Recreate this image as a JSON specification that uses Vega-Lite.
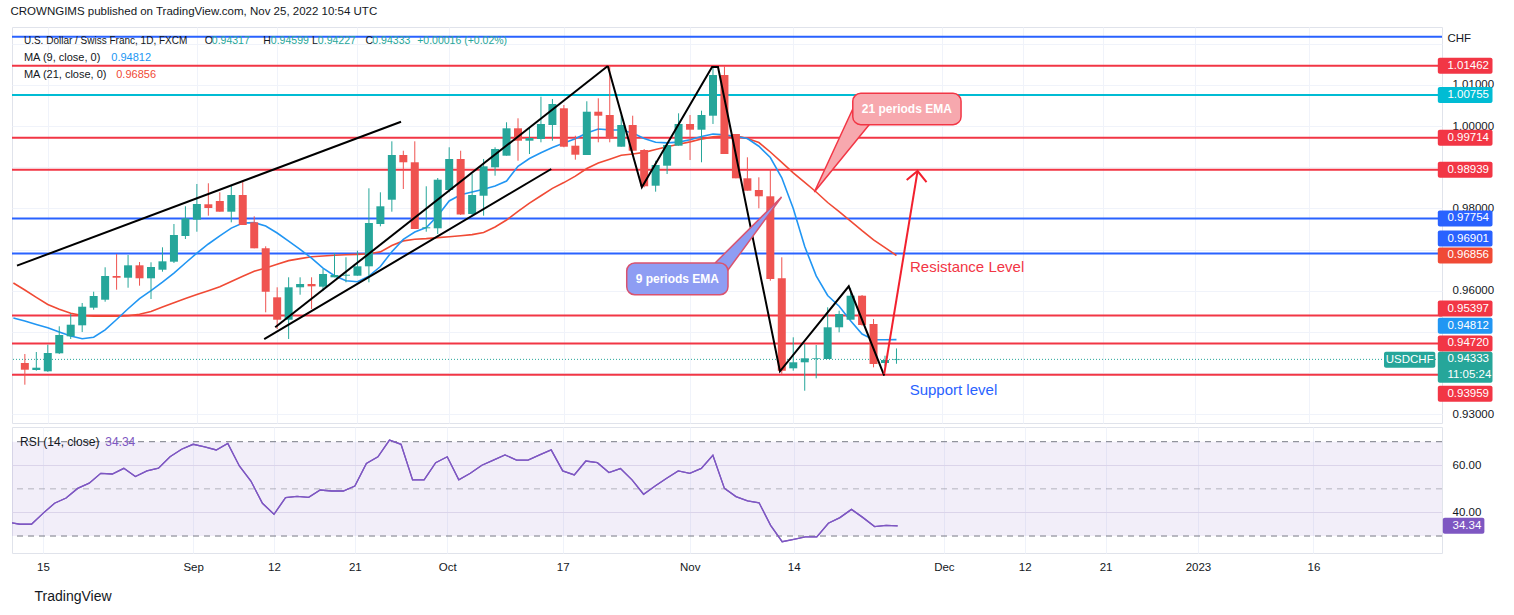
{
  "$schema": "https://vega.github.io/schema/vega-lite/v6.json",
  "background": "#ffffff",
  "padding": {"left": 10, "top": 6, "right": 4, "bottom": 4},
  "spacing": 2,
  "title": {"text": "CROWNGIMS published on TradingView.com, Nov 25, 2022 10:54 UTC", "anchor": "start", "font": "Liberation Sans", "fontSize": 11.5, "fontWeight": "normal", "color": "#131722", "offset": 9},
  "config": {
    "view": {"stroke": "#e0e3eb"},
    "font": "Liberation Sans",
    "axis": {"labelFont": "Liberation Sans", "labelFontSize": 11.5, "labelColor": "#131722"}
  },
  "datasets": {
    "bars": [
      {"i": -3, "m9": 0.95338, "m21": 0.96187, "r": 35.8},
      {"i": -2, "o": 0.94245, "h": 0.94463, "l": 0.93718, "c": 0.94082, "m9": 0.95265, "m21": 0.96018, "r": 35.0},
      {"i": -1, "o": 0.94075, "h": 0.94512, "l": 0.94058, "c": 0.94131, "m9": 0.95182, "m21": 0.95840, "r": 35.0},
      {"i": 0, "o": 0.94043, "h": 0.94689, "l": 0.94030, "c": 0.94488, "m9": 0.95102, "m21": 0.95665, "r": 39.6},
      {"i": 1, "o": 0.94480, "h": 0.95136, "l": 0.94463, "c": 0.94925, "m9": 0.95000, "m21": 0.95551, "r": 43.9},
      {"i": 2, "o": 0.94893, "h": 0.95435, "l": 0.94828, "c": 0.95175, "m9": 0.94900, "m21": 0.95454, "r": 46.1},
      {"i": 3, "o": 0.95160, "h": 0.95702, "l": 0.94997, "c": 0.95612, "m9": 0.94835, "m21": 0.95398, "r": 50.2},
      {"i": 4, "o": 0.95588, "h": 0.95976, "l": 0.95539, "c": 0.95872, "m9": 0.94871, "m21": 0.95379, "r": 52.4},
      {"i": 5, "o": 0.95782, "h": 0.96569, "l": 0.95733, "c": 0.96357, "m9": 0.95051, "m21": 0.95379, "r": 56.6},
      {"i": 6, "o": 0.96357, "h": 0.96892, "l": 0.96025, "c": 0.96316, "m9": 0.95301, "m21": 0.95384, "r": 56.3},
      {"i": 7, "o": 0.96316, "h": 0.96867, "l": 0.96073, "c": 0.96617, "m9": 0.95563, "m21": 0.95391, "r": 58.7},
      {"i": 8, "o": 0.96617, "h": 0.96697, "l": 0.96122, "c": 0.96302, "m9": 0.95806, "m21": 0.95427, "r": 55.2},
      {"i": 9, "o": 0.96302, "h": 0.96690, "l": 0.95799, "c": 0.96576, "m9": 0.96000, "m21": 0.95495, "r": 57.6},
      {"i": 10, "o": 0.96510, "h": 0.97054, "l": 0.96462, "c": 0.96714, "m9": 0.96207, "m21": 0.95602, "r": 58.8},
      {"i": 11, "o": 0.96705, "h": 0.97620, "l": 0.96673, "c": 0.97353, "m9": 0.96428, "m21": 0.95709, "r": 63.6},
      {"i": 12, "o": 0.97329, "h": 0.98050, "l": 0.97256, "c": 0.97759, "m9": 0.96673, "m21": 0.95809, "r": 66.8},
      {"i": 13, "o": 0.97725, "h": 0.98592, "l": 0.97433, "c": 0.98106, "m9": 0.96914, "m21": 0.95906, "r": 68.9},
      {"i": 14, "o": 0.98099, "h": 0.98609, "l": 0.97822, "c": 0.98009, "m9": 0.97135, "m21": 0.96000, "r": 67.8},
      {"i": 15, "o": 0.98179, "h": 0.98390, "l": 0.97919, "c": 0.97919, "m9": 0.97334, "m21": 0.96098, "r": 66.5},
      {"i": 16, "o": 0.97919, "h": 0.98567, "l": 0.97661, "c": 0.98324, "m9": 0.97521, "m21": 0.96224, "r": 69.3},
      {"i": 17, "o": 0.98324, "h": 0.98672, "l": 0.97596, "c": 0.97596, "m9": 0.97644, "m21": 0.96350, "r": 59.7},
      {"i": 18, "o": 0.97661, "h": 0.97807, "l": 0.97030, "c": 0.97030, "m9": 0.97654, "m21": 0.96474, "r": 53.3},
      {"i": 19, "o": 0.97030, "h": 0.97079, "l": 0.95476, "c": 0.95976, "m9": 0.97572, "m21": 0.96554, "r": 43.9},
      {"i": 20, "o": 0.95840, "h": 0.96083, "l": 0.95070, "c": 0.95296, "m9": 0.97402, "m21": 0.96644, "r": 39.2},
      {"i": 21, "o": 0.95296, "h": 0.96326, "l": 0.94828, "c": 0.96083, "m9": 0.97205, "m21": 0.96731, "r": 46.3},
      {"i": 22, "o": 0.96083, "h": 0.96326, "l": 0.95903, "c": 0.96163, "m9": 0.97006, "m21": 0.96780, "r": 46.8},
      {"i": 23, "o": 0.96163, "h": 0.96326, "l": 0.95556, "c": 0.96107, "m9": 0.96790, "m21": 0.96824, "r": 46.4},
      {"i": 24, "o": 0.96098, "h": 0.96527, "l": 0.96000, "c": 0.96406, "m9": 0.96549, "m21": 0.96843, "r": 49.5},
      {"i": 25, "o": 0.96326, "h": 0.96916, "l": 0.96326, "c": 0.96382, "m9": 0.96365, "m21": 0.96860, "r": 49.1},
      {"i": 26, "o": 0.96365, "h": 0.96812, "l": 0.96204, "c": 0.96389, "m9": 0.96241, "m21": 0.96872, "r": 49.1},
      {"i": 27, "o": 0.96365, "h": 0.96972, "l": 0.96365, "c": 0.96593, "m9": 0.96219, "m21": 0.96882, "r": 51.2},
      {"i": 28, "o": 0.96593, "h": 0.98487, "l": 0.96204, "c": 0.97644, "m9": 0.96355, "m21": 0.96897, "r": 60.8},
      {"i": 29, "o": 0.97620, "h": 0.98390, "l": 0.97564, "c": 0.98050, "m9": 0.96588, "m21": 0.96943, "r": 63.6},
      {"i": 30, "o": 0.98210, "h": 0.99628, "l": 0.97919, "c": 0.99296, "m9": 0.96948, "m21": 0.97098, "r": 70.7},
      {"i": 31, "o": 0.99296, "h": 0.99400, "l": 0.98470, "c": 0.99119, "m9": 0.97246, "m21": 0.97210, "r": 68.9},
      {"i": 32, "o": 0.99119, "h": 0.99628, "l": 0.97499, "c": 0.97499, "m9": 0.97424, "m21": 0.97249, "r": 53.8},
      {"i": 33, "o": 0.97516, "h": 0.98536, "l": 0.97433, "c": 0.97540, "m9": 0.97533, "m21": 0.97266, "r": 53.8},
      {"i": 34, "o": 0.97516, "h": 0.98737, "l": 0.97377, "c": 0.98696, "m9": 0.97819, "m21": 0.97290, "r": 61.1},
      {"i": 35, "o": 0.98446, "h": 0.99483, "l": 0.98390, "c": 0.99199, "m9": 0.98179, "m21": 0.97312, "r": 63.6},
      {"i": 36, "o": 0.99199, "h": 0.99400, "l": 0.97839, "c": 0.97851, "m9": 0.98329, "m21": 0.97336, "r": 53.8},
      {"i": 37, "o": 0.97863, "h": 0.98834, "l": 0.97822, "c": 0.98324, "m9": 0.98397, "m21": 0.97363, "r": 56.6},
      {"i": 38, "o": 0.98307, "h": 0.99199, "l": 0.97822, "c": 0.99021, "m9": 0.98465, "m21": 0.97414, "r": 60.0},
      {"i": 39, "o": 0.98997, "h": 0.99483, "l": 0.98793, "c": 0.99441, "m9": 0.98541, "m21": 0.97547, "r": 62.2},
      {"i": 40, "o": 0.99279, "h": 1.00090, "l": 0.99279, "c": 0.99944, "m9": 0.98664, "m21": 0.97717, "r": 64.4},
      {"i": 41, "o": 0.99944, "h": 1.00187, "l": 0.99157, "c": 0.99643, "m9": 0.99021, "m21": 0.97929, "r": 62.2},
      {"i": 42, "o": 0.99643, "h": 0.99968, "l": 0.99320, "c": 0.99709, "m9": 0.99211, "m21": 0.98128, "r": 62.2},
      {"i": 43, "o": 0.99684, "h": 1.00712, "l": 0.99604, "c": 1.00049, "m9": 0.99349, "m21": 0.98307, "r": 64.4},
      {"i": 44, "o": 1.00024, "h": 1.00656, "l": 0.99643, "c": 1.00534, "m9": 0.99478, "m21": 0.98485, "r": 66.5},
      {"i": 45, "o": 1.00430, "h": 1.00510, "l": 0.99483, "c": 0.99497, "m9": 0.99587, "m21": 0.98626, "r": 57.6},
      {"i": 46, "o": 0.99522, "h": 0.99764, "l": 0.99182, "c": 0.99303, "m9": 0.99689, "m21": 0.98783, "r": 55.9},
      {"i": 47, "o": 0.99296, "h": 1.00600, "l": 0.99296, "c": 1.00347, "m9": 0.99830, "m21": 0.98968, "r": 61.8},
      {"i": 48, "o": 1.00347, "h": 1.00673, "l": 0.99604, "c": 1.00250, "m9": 0.99927, "m21": 0.99099, "r": 61.1},
      {"i": 49, "o": 1.00267, "h": 1.01462, "l": 0.99604, "c": 0.99701, "m9": 0.99905, "m21": 0.99194, "r": 56.9},
      {"i": 50, "o": 0.99497, "h": 1.00267, "l": 0.99497, "c": 1.00024, "m9": 0.99903, "m21": 0.99288, "r": 58.6},
      {"i": 51, "o": 1.00024, "h": 1.00250, "l": 0.99400, "c": 0.99400, "m9": 0.99828, "m21": 0.99320, "r": 53.8},
      {"i": 52, "o": 0.99417, "h": 0.99441, "l": 0.98511, "c": 0.98536, "m9": 0.99696, "m21": 0.99359, "r": 47.7},
      {"i": 53, "o": 0.98550, "h": 0.99157, "l": 0.98405, "c": 0.99053, "m9": 0.99607, "m21": 0.99429, "r": 51.2},
      {"i": 54, "o": 0.99036, "h": 0.99604, "l": 0.98834, "c": 0.99539, "m9": 0.99590, "m21": 0.99495, "r": 54.5},
      {"i": 55, "o": 0.99522, "h": 1.00308, "l": 0.99522, "c": 1.00049, "m9": 0.99609, "m21": 0.99556, "r": 57.6},
      {"i": 56, "o": 1.00049, "h": 1.00267, "l": 0.99174, "c": 0.99910, "m9": 0.99665, "m21": 0.99614, "r": 56.6},
      {"i": 57, "o": 0.99910, "h": 1.00372, "l": 0.99119, "c": 1.00267, "m9": 0.99745, "m21": 0.99682, "r": 58.7},
      {"i": 58, "o": 1.00250, "h": 1.01425, "l": 1.00049, "c": 1.01238, "m9": 0.99806, "m21": 0.99735, "r": 64.2},
      {"i": 59, "o": 1.01238, "h": 1.01450, "l": 0.99320, "c": 0.99320, "m9": 0.99789, "m21": 0.99762, "r": 50.2},
      {"i": 60, "o": 0.99806, "h": 0.99806, "l": 0.98730, "c": 0.98730, "m9": 0.99747, "m21": 0.99760, "r": 46.7},
      {"i": 61, "o": 0.98730, "h": 0.99240, "l": 0.98429, "c": 0.98429, "m9": 0.99696, "m21": 0.99696, "r": 44.9},
      {"i": 62, "o": 0.98446, "h": 0.98754, "l": 0.98001, "c": 0.98293, "m9": 0.99509, "m21": 0.99599, "r": 44.1},
      {"i": 63, "o": 0.98293, "h": 0.98956, "l": 0.96243, "c": 0.96285, "m9": 0.99235, "m21": 0.99369, "r": 34.5},
      {"i": 64, "o": 0.96302, "h": 0.96812, "l": 0.93980, "c": 0.94058, "m9": 0.98742, "m21": 0.99119, "r": 27.6},
      {"i": 65, "o": 0.94116, "h": 0.94869, "l": 0.94058, "c": 0.94262, "m9": 0.97997, "m21": 0.98864, "r": 28.6},
      {"i": 66, "o": 0.94262, "h": 0.94706, "l": 0.93572, "c": 0.94359, "m9": 0.97074, "m21": 0.98633, "r": 29.6},
      {"i": 67, "o": 0.94342, "h": 0.94682, "l": 0.93873, "c": 0.94359, "m9": 0.96360, "m21": 0.98397, "r": 29.6},
      {"i": 68, "o": 0.94342, "h": 0.95597, "l": 0.94342, "c": 0.95112, "m9": 0.95884, "m21": 0.98142, "r": 35.4},
      {"i": 69, "o": 0.95112, "h": 0.95515, "l": 0.94990, "c": 0.95435, "m9": 0.95622, "m21": 0.97919, "r": 37.8},
      {"i": 70, "o": 0.95296, "h": 0.96059, "l": 0.95296, "c": 0.95879, "m9": 0.95271, "m21": 0.97691, "r": 41.3},
      {"i": 71, "o": 0.95879, "h": 0.95896, "l": 0.95150, "c": 0.95167, "m9": 0.94949, "m21": 0.97458, "r": 37.8},
      {"i": 72, "o": 0.95192, "h": 0.95313, "l": 0.94140, "c": 0.94220, "m9": 0.94811, "m21": 0.97237, "r": 34.0},
      {"i": 73, "o": 0.94245, "h": 0.94422, "l": 0.94165, "c": 0.94318, "m9": 0.94808, "m21": 0.97045, "r": 34.5},
      {"i": 74, "o": 0.94317, "h": 0.94599, "l": 0.94227, "c": 0.94333, "m9": 0.94812, "m21": 0.96856, "r": 34.34}
    ],
    "levels": [
      {"p": 1.0217, "kind": "blue"},
      {"p": 1.01462, "kind": "res"},
      {"p": 1.00755, "kind": "cyan"},
      {"p": 0.99714, "kind": "res"},
      {"p": 0.98939, "kind": "res"},
      {"p": 0.97754, "kind": "blue"},
      {"p": 0.96901, "kind": "blue"},
      {"p": 0.95397, "kind": "res"},
      {"p": 0.94720, "kind": "res"},
      {"p": 0.93959, "kind": "res"}
    ],
    "tags": [
      {"v": 1.01462, "kind": "res"},
      {"v": 1.00755, "kind": "cyan"},
      {"v": 0.99714, "kind": "res"},
      {"v": 0.98939, "kind": "res"},
      {"v": 0.97754, "kind": "blue"},
      {"v": 0.96901, "kind": "blue"},
      {"v": 0.96856, "kind": "ma21"},
      {"v": 0.95397, "kind": "res"},
      {"v": 0.94812, "kind": "ma9"},
      {"v": 0.94720, "kind": "res"},
      {"v": 0.93959, "kind": "res"}
    ],
    "trend": [
      {"g": "a", "k": 0, "i": -2.684, "p": 0.96608},
      {"g": "a", "k": 1, "i": 30.8, "p": 1.00104},
      {"g": "b", "k": 0, "i": 18.87, "p": 0.94827},
      {"g": "b", "k": 1, "i": 43.9, "p": 0.98956},
      {"g": "c", "k": 0, "i": 19.83, "p": 0.95112},
      {"g": "c", "k": 1, "i": 48.83, "p": 1.01457},
      {"g": "z", "k": 0, "i": 48.83, "p": 1.01457},
      {"g": "z", "k": 1, "i": 51.8, "p": 0.98511},
      {"g": "z", "k": 2, "i": 57.92, "p": 1.01433},
      {"g": "z", "k": 3, "i": 58.44, "p": 1.01433},
      {"g": "z", "k": 4, "i": 63.84, "p": 0.94043},
      {"g": "z", "k": 5, "i": 69.84, "p": 0.96107},
      {"g": "z", "k": 6, "i": 72.93, "p": 0.93936}
    ],
    "arrow": [
      {"g": "s", "k": 0, "i": 72.93, "p": 0.93978},
      {"g": "s", "k": 1, "i": 75.84, "p": 0.98907},
      {"g": "h", "k": 0, "i": 74.89, "p": 0.98689},
      {"g": "h", "k": 1, "i": 75.84, "p": 0.98907},
      {"g": "h", "k": 2, "i": 76.62, "p": 0.98640}
    ],
    "tail21": [
      {"k": 0, "i": 70.27, "p": 1.00461},
      {"k": 1, "i": 71.6, "p": 1.00024},
      {"k": 2, "i": 66.84, "p": 0.98397},
      {"k": 3, "i": 70.27, "p": 1.00461}
    ],
    "tail9": [
      {"k": 0, "i": 58.18, "p": 0.96673},
      {"k": 1, "i": 59.31, "p": 0.96503},
      {"k": 2, "i": 63.98, "p": 0.98276},
      {"k": 3, "i": 58.18, "p": 0.96673}
    ]
  },
  "vconcat": [
    {
      "width": 1430,
      "height": 396,
      "layer": [
        {
          "data": {"name": "levels"},
          "mark": {"type": "rule", "strokeWidth": 2},
          "encoding": {
            "y": {"field": "p", "type": "quantitative"},
            "color": {"field": "kind", "type": "nominal", "legend": null, "scale": {"domain": ["res", "blue", "cyan", "ma21", "ma9", "price"], "range": ["#f23645", "#2962ff", "#00bcd4", "#f04a35", "#2196f3", "#26a69a"]}}
          }
        },
        {
          "data": {"name": "bars"},
          "transform": [{"filter": "datum.i == 74"}],
          "mark": {"type": "rule", "strokeWidth": 1, "strokeDash": [1, 2], "color": "#26a69a"},
          "encoding": {"y": {"field": "c", "type": "quantitative"}}
        },
        {
          "data": {"name": "bars"},
          "mark": {"type": "line", "color": "#f04a35", "strokeWidth": 1.6, "clip": true},
          "encoding": {
            "x": {"field": "i", "type": "quantitative"},
            "y": {"field": "m21", "type": "quantitative"}
          }
        },
        {
          "data": {"name": "bars"},
          "mark": {"type": "line", "color": "#2196f3", "strokeWidth": 1.6, "clip": true},
          "encoding": {
            "x": {"field": "i", "type": "quantitative"},
            "y": {"field": "m9", "type": "quantitative"}
          }
        },
        {
          "data": {"name": "bars"},
          "mark": {"type": "rule", "strokeWidth": 1},
          "encoding": {
            "x": {
              "field": "i", "type": "quantitative",
              "scale": {"domain": [-2.684, 121.13], "nice": false, "zero": false},
              "axis": {"values": [0, 13, 20, 27, 35, 45, 56, 65, 78, 85, 92, 100, 110], "labels": false, "ticks": false, "domain": false, "grid": true, "gridColor": "#f0f3fa", "title": null}
            },
            "y": {
              "field": "l", "type": "quantitative",
              "scale": {"domain": [0.92788, 1.02404], "nice": false, "zero": false},
              "axis": {
                "orient": "right", "values": [0.93, 0.94, 0.95, 0.96, 0.97, 0.98, 0.99, 1, 1.01, 1.02],
                "format": ".5f",
                "labelExpr": "indexof(['0.93000','0.96000','0.98000','1.00000','1.01000'], datum.label) >= 0 ? datum.label : ''",
                "grid": true, "gridColor": "#f0f3fa", "ticks": false, "domain": false,
                "labelPadding": 10, "labelOverlap": false, "labelFlush": false, "title": null
              }
            },
            "y2": {"field": "h"},
            "color": {"condition": {"test": "datum.c >= datum.o", "value": "#26a69a"}, "value": "#ef5350"}
          }
        },
        {
          "data": {"name": "bars"},
          "mark": {"type": "bar", "size": 8},
          "encoding": {
            "x": {"field": "i", "type": "quantitative"},
            "y": {"field": "o", "type": "quantitative"},
            "y2": {"field": "c"},
            "color": {"condition": {"test": "datum.c >= datum.o", "value": "#26a69a"}, "value": "#ef5350"}
          }
        },
        {
          "data": {"name": "trend"},
          "mark": {"type": "line", "color": "#000000", "strokeWidth": 2, "clip": true},
          "encoding": {
            "x": {"field": "i", "type": "quantitative"},
            "y": {"field": "p", "type": "quantitative"},
            "detail": {"field": "g"},
            "order": {"field": "k"}
          }
        },
        {
          "data": {"name": "arrow"},
          "mark": {"type": "line", "color": "#f2202e", "strokeWidth": 2},
          "encoding": {
            "x": {"field": "i", "type": "quantitative"},
            "y": {"field": "p", "type": "quantitative"},
            "detail": {"field": "g"},
            "order": {"field": "k"}
          }
        },
        {
          "data": {"name": "tail21"},
          "mark": {"type": "line", "fill": "#f7a8ae", "stroke": "#f23645", "strokeWidth": 1.5},
          "encoding": {
            "x": {"field": "i", "type": "quantitative"},
            "y": {"field": "p", "type": "quantitative"},
            "order": {"field": "k"}
          }
        },
        {
          "data": {"values": [{}]},
          "mark": {"type": "rect", "fill": "#f7a8ae", "stroke": "#f23645", "strokeWidth": 1.5, "cornerRadius": 8},
          "encoding": {
            "x": {"datum": 70.19, "type": "quantitative"},
            "x2": {"datum": 79.63},
            "y": {"datum": 1.00794, "type": "quantitative"},
            "y2": {"datum": 1.00032}
          }
        },
        {
          "data": {"values": [{}]},
          "mark": {"type": "text", "color": "#ffffff", "fontSize": 12, "fontWeight": "bold"},
          "encoding": {
            "x": {"datum": 74.9, "type": "quantitative"},
            "y": {"datum": 1.00413, "type": "quantitative"},
            "text": {"value": "21 periods EMA"}
          }
        },
        {
          "data": {"name": "tail9"},
          "mark": {"type": "line", "fill": "#8e9df3", "stroke": "#d9536f", "strokeWidth": 1.5},
          "encoding": {
            "x": {"field": "i", "type": "quantitative"},
            "y": {"field": "p", "type": "quantitative"},
            "order": {"field": "k"}
          }
        },
        {
          "data": {"values": [{}]},
          "mark": {"type": "rect", "fill": "#8e9df3", "stroke": "#d9536f", "strokeWidth": 1.5, "cornerRadius": 8},
          "encoding": {
            "x": {"datum": 50.48, "type": "quantitative"},
            "x2": {"datum": 59.31},
            "y": {"datum": 0.96673, "type": "quantitative"},
            "y2": {"datum": 0.95903}
          }
        },
        {
          "data": {"values": [{}]},
          "mark": {"type": "text", "color": "#ffffff", "fontSize": 12, "fontWeight": "bold"},
          "encoding": {
            "x": {"datum": 54.89, "type": "quantitative"},
            "y": {"datum": 0.96285, "type": "quantitative"},
            "text": {"value": "9 periods EMA"}
          }
        },
        {
          "data": {"values": [{}]},
          "mark": {"type": "text", "align": "left", "color": "#f23645", "fontSize": 15},
          "encoding": {
            "x": {"datum": 75.18, "type": "quantitative"},
            "y": {"datum": 0.96569, "type": "quantitative"},
            "text": {"value": "Resistance Level"}
          }
        },
        {
          "data": {"values": [{}]},
          "mark": {"type": "text", "align": "left", "color": "#2962ff", "fontSize": 15},
          "encoding": {
            "x": {"datum": 75.15, "type": "quantitative"},
            "y": {"datum": 0.93589, "type": "quantitative"},
            "text": {"value": "Support level"}
          }
        },
        {
          "data": {"values": [{}]},
          "mark": {"type": "text", "align": "left", "color": "#131722", "fontSize": 10},
          "encoding": {
            "x": {"datum": -2.08, "type": "quantitative"},
            "y": {"datum": 1.02057, "type": "quantitative"},
            "text": {"value": "U.S. Dollar / Swiss Franc, 1D, FXCM"}
          }
        },
        {
          "data": {"values": [{}]},
          "mark": {"type": "text", "align": "left", "color": "#131722", "fontSize": 10.5},
          "encoding": {
            "x": {"datum": 13.68, "type": "quantitative"},
            "y": {"datum": 1.02057, "type": "quantitative"},
            "text": {"value": "O"}
          }
        },
        {
          "data": {"values": [{}]},
          "mark": {"type": "text", "align": "left", "color": "#131722", "fontSize": 10.5},
          "encoding": {
            "x": {"datum": 18.79, "type": "quantitative"},
            "y": {"datum": 1.02057, "type": "quantitative"},
            "text": {"value": "H"}
          }
        },
        {
          "data": {"values": [{}]},
          "mark": {"type": "text", "align": "left", "color": "#131722", "fontSize": 10.5},
          "encoding": {
            "x": {"datum": 23.03, "type": "quantitative"},
            "y": {"datum": 1.02057, "type": "quantitative"},
            "text": {"value": "L"}
          }
        },
        {
          "data": {"values": [{}]},
          "mark": {"type": "text", "align": "left", "color": "#131722", "fontSize": 10.5},
          "encoding": {
            "x": {"datum": 27.71, "type": "quantitative"},
            "y": {"datum": 1.02057, "type": "quantitative"},
            "text": {"value": "C"}
          }
        },
        {
          "data": {"name": "bars"},
          "transform": [{"filter": "datum.i == 74"}],
          "mark": {"type": "text", "align": "left", "color": "#26a69a", "fontSize": 10.5},
          "encoding": {
            "x": {"datum": 14.3, "type": "quantitative"},
            "y": {"datum": 1.02057, "type": "quantitative"},
            "text": {"field": "o", "format": ".5f"}
          }
        },
        {
          "data": {"name": "bars"},
          "transform": [{"filter": "datum.i == 74"}],
          "mark": {"type": "text", "align": "left", "color": "#26a69a", "fontSize": 10.5},
          "encoding": {
            "x": {"datum": 19.45, "type": "quantitative"},
            "y": {"datum": 1.02057, "type": "quantitative"},
            "text": {"field": "h", "format": ".5f"}
          }
        },
        {
          "data": {"name": "bars"},
          "transform": [{"filter": "datum.i == 74"}],
          "mark": {"type": "text", "align": "left", "color": "#26a69a", "fontSize": 10.5},
          "encoding": {
            "x": {"datum": 23.55, "type": "quantitative"},
            "y": {"datum": 1.02057, "type": "quantitative"},
            "text": {"field": "l", "format": ".5f"}
          }
        },
        {
          "data": {"name": "bars"},
          "transform": [{"filter": "datum.i == 74"}],
          "mark": {"type": "text", "align": "left", "color": "#26a69a", "fontSize": 10.5},
          "encoding": {
            "x": {"datum": 28.3, "type": "quantitative"},
            "y": {"datum": 1.02057, "type": "quantitative"},
            "text": {"field": "c", "format": ".5f"}
          }
        },
        {
          "data": {"values": [{}]},
          "mark": {"type": "text", "align": "left", "color": "#26a69a", "fontSize": 10.5},
          "encoding": {
            "x": {"datum": 32.21, "type": "quantitative"},
            "y": {"datum": 1.02057, "type": "quantitative"},
            "text": {"value": "+0.00016 (+0.02%)"}
          }
        },
        {
          "data": {"values": [{}]},
          "mark": {"type": "text", "align": "left", "color": "#131722", "fontSize": 11},
          "encoding": {
            "x": {"datum": -2.08, "type": "quantitative"},
            "y": {"datum": 1.01651, "type": "quantitative"},
            "text": {"value": "MA (9, close, 0)"}
          }
        },
        {
          "data": {"name": "bars"},
          "transform": [{"filter": "datum.i == 74"}],
          "mark": {"type": "text", "align": "left", "color": "#2196f3", "fontSize": 11},
          "encoding": {
            "x": {"datum": 5.54, "type": "quantitative"},
            "y": {"datum": 1.01651, "type": "quantitative"},
            "text": {"field": "m9", "format": ".5f"}
          }
        },
        {
          "data": {"values": [{}]},
          "mark": {"type": "text", "align": "left", "color": "#131722", "fontSize": 11},
          "encoding": {
            "x": {"datum": -2.08, "type": "quantitative"},
            "y": {"datum": 1.01238, "type": "quantitative"},
            "text": {"value": "MA (21, close, 0)"}
          }
        },
        {
          "data": {"name": "bars"},
          "transform": [{"filter": "datum.i == 74"}],
          "mark": {"type": "text", "align": "left", "color": "#f04a35", "fontSize": 11},
          "encoding": {
            "x": {"datum": 5.97, "type": "quantitative"},
            "y": {"datum": 1.01238, "type": "quantitative"},
            "text": {"field": "m21", "format": ".5f"}
          }
        },
        {
          "data": {"values": [{}]},
          "mark": {"type": "text", "align": "left", "color": "#131722", "fontSize": 11.5},
          "encoding": {
            "x": {"datum": 122.04, "type": "quantitative"},
            "y": {"datum": 1.02113, "type": "quantitative"},
            "text": {"value": "CHF"}
          }
        },
        {
          "data": {"name": "tags"},
          "transform": [{"filter": "datum.v != 0.96901 && datum.v != 0.95397 && datum.v != 0.94812 && datum.v != 0.93959"}],
          "layer": [
            {
              "mark": {"type": "rect", "yOffset": -8, "y2Offset": 8, "cornerRadius": 2},
              "encoding": {
                "x": {"datum": 121.2, "type": "quantitative"},
                "x2": {"datum": 125.97},
                "y": {"field": "v", "type": "quantitative"},
                "y2": {"field": "v"},
                "color": {"field": "kind", "type": "nominal", "legend": null, "scale": {"domain": ["res", "blue", "cyan", "ma21", "ma9", "price"], "range": ["#f23645", "#2962ff", "#00bcd4", "#f04a35", "#2196f3", "#26a69a"]}}
              }
            },
            {
              "mark": {"type": "text", "align": "left", "color": "#ffffff", "fontSize": 11.5},
              "encoding": {
                "x": {"datum": 122.04, "type": "quantitative"},
                "y": {"field": "v", "type": "quantitative"},
                "text": {"field": "v", "format": ".5f"}
              }
            }
          ]
        },
        {
          "data": {"name": "tags"},
          "transform": [{"filter": "datum.v == 0.96901"}],
          "layer": [
            {
              "mark": {"type": "rect", "yOffset": -23, "y2Offset": -7, "cornerRadius": 2},
              "encoding": {
                "x": {"datum": 121.2, "type": "quantitative"},
                "x2": {"datum": 125.97},
                "y": {"field": "v", "type": "quantitative"},
                "y2": {"field": "v"},
                "color": {"field": "kind", "type": "nominal", "legend": null, "scale": {"domain": ["res", "blue", "cyan", "ma21", "ma9", "price"], "range": ["#f23645", "#2962ff", "#00bcd4", "#f04a35", "#2196f3", "#26a69a"]}}
              }
            },
            {
              "mark": {"type": "text", "align": "left", "color": "#ffffff", "fontSize": 11.5, "yOffset": -15},
              "encoding": {
                "x": {"datum": 122.04, "type": "quantitative"},
                "y": {"field": "v", "type": "quantitative"},
                "text": {"field": "v", "format": ".5f"}
              }
            }
          ]
        },
        {
          "data": {"name": "tags"},
          "transform": [{"filter": "datum.v == 0.95397"}],
          "layer": [
            {
              "mark": {"type": "rect", "yOffset": -15, "y2Offset": 1, "cornerRadius": 2},
              "encoding": {
                "x": {"datum": 121.2, "type": "quantitative"},
                "x2": {"datum": 125.97},
                "y": {"field": "v", "type": "quantitative"},
                "y2": {"field": "v"},
                "color": {"field": "kind", "type": "nominal", "legend": null, "scale": {"domain": ["res", "blue", "cyan", "ma21", "ma9", "price"], "range": ["#f23645", "#2962ff", "#00bcd4", "#f04a35", "#2196f3", "#26a69a"]}}
              }
            },
            {
              "mark": {"type": "text", "align": "left", "color": "#ffffff", "fontSize": 11.5, "yOffset": -7},
              "encoding": {
                "x": {"datum": 122.04, "type": "quantitative"},
                "y": {"field": "v", "type": "quantitative"},
                "text": {"field": "v", "format": ".5f"}
              }
            }
          ]
        },
        {
          "data": {"name": "tags"},
          "transform": [{"filter": "datum.v == 0.94812"}],
          "layer": [
            {
              "mark": {"type": "rect", "yOffset": -22, "y2Offset": -6, "cornerRadius": 2},
              "encoding": {
                "x": {"datum": 121.2, "type": "quantitative"},
                "x2": {"datum": 125.97},
                "y": {"field": "v", "type": "quantitative"},
                "y2": {"field": "v"},
                "color": {"field": "kind", "type": "nominal", "legend": null, "scale": {"domain": ["res", "blue", "cyan", "ma21", "ma9", "price"], "range": ["#f23645", "#2962ff", "#00bcd4", "#f04a35", "#2196f3", "#26a69a"]}}
              }
            },
            {
              "mark": {"type": "text", "align": "left", "color": "#ffffff", "fontSize": 11.5, "yOffset": -14},
              "encoding": {
                "x": {"datum": 122.04, "type": "quantitative"},
                "y": {"field": "v", "type": "quantitative"},
                "text": {"field": "v", "format": ".5f"}
              }
            }
          ]
        },
        {
          "data": {"name": "tags"},
          "transform": [{"filter": "datum.v == 0.93959"}],
          "layer": [
            {
              "mark": {"type": "rect", "yOffset": 11, "y2Offset": 27, "cornerRadius": 2},
              "encoding": {
                "x": {"datum": 121.2, "type": "quantitative"},
                "x2": {"datum": 125.97},
                "y": {"field": "v", "type": "quantitative"},
                "y2": {"field": "v"},
                "color": {"field": "kind", "type": "nominal", "legend": null, "scale": {"domain": ["res", "blue", "cyan", "ma21", "ma9", "price"], "range": ["#f23645", "#2962ff", "#00bcd4", "#f04a35", "#2196f3", "#26a69a"]}}
              }
            },
            {
              "mark": {"type": "text", "align": "left", "color": "#ffffff", "fontSize": 11.5, "yOffset": 19},
              "encoding": {
                "x": {"datum": 122.04, "type": "quantitative"},
                "y": {"field": "v", "type": "quantitative"},
                "text": {"field": "v", "format": ".5f"}
              }
            }
          ]
        },
        {
          "data": {"name": "bars"},
          "transform": [{"filter": "datum.i == 74"}],
          "layer": [
            {
              "mark": {"type": "rect", "yOffset": -7.5, "y2Offset": 23.5, "cornerRadius": 2, "color": "#26a69a"},
              "encoding": {
                "x": {"datum": 121.2, "type": "quantitative"},
                "x2": {"datum": 125.97},
                "y": {"field": "c", "type": "quantitative"},
                "y2": {"field": "c"}
              }
            },
            {
              "mark": {"type": "text", "align": "left", "color": "#ffffff", "fontSize": 11.5},
              "encoding": {
                "x": {"datum": 122.04, "type": "quantitative"},
                "y": {"field": "c", "type": "quantitative"},
                "text": {"field": "c", "format": ".5f"}
              }
            },
            {
              "mark": {"type": "text", "align": "left", "color": "#ffffff", "fontSize": 11.5, "yOffset": 15.5},
              "encoding": {
                "x": {"datum": 122.04, "type": "quantitative"},
                "y": {"field": "c", "type": "quantitative"},
                "text": {"value": "11:05:24"}
              }
            },
            {
              "mark": {"type": "rect", "yOffset": -7.5, "y2Offset": 8.5, "cornerRadius": 2, "color": "#26a69a"},
              "encoding": {
                "x": {"datum": 116.51, "type": "quantitative"},
                "x2": {"datum": 120.98},
                "y": {"field": "c", "type": "quantitative"},
                "y2": {"field": "c"}
              }
            },
            {
              "mark": {"type": "text", "color": "#ffffff", "fontSize": 11.5, "yOffset": 0.5},
              "encoding": {
                "x": {"datum": 118.75, "type": "quantitative"},
                "y": {"field": "c", "type": "quantitative"},
                "text": {"value": "USDCHF"}
              }
            }
          ]
        }
      ]
    },
    {
      "width": 1430,
      "height": 126,
      "title": {"text": "TradingView", "orient": "bottom", "anchor": "start", "font": "Liberation Sans", "fontSize": 14, "fontWeight": "normal", "color": "#131722", "offset": 17, "dx": 23},
      "layer": [
        {
          "data": {"name": "bars"},
          "mark": {"type": "line", "color": "#7e57c2", "strokeWidth": 1.3, "clip": true},
          "encoding": {
            "x": {
              "field": "i", "type": "quantitative",
              "scale": {"domain": [-2.684, 121.13], "nice": false, "zero": false},
              "axis": {
                "orient": "bottom",
                "values": [0, 13, 20, 27, 35, 45, 56, 65, 78, 85, 92, 100, 110],
                "labelExpr": "datum.value == 0 ? '15' : datum.value == 13 ? 'Sep' : datum.value == 20 ? '12' : datum.value == 27 ? '21' : datum.value == 35 ? 'Oct' : datum.value == 45 ? '17' : datum.value == 56 ? 'Nov' : datum.value == 65 ? '14' : datum.value == 78 ? 'Dec' : datum.value == 85 ? '12' : datum.value == 92 ? '21' : datum.value == 100 ? '2023' : '16'",
                "ticks": false, "domain": false, "grid": true, "gridColor": "#f0f3fa",
                "labelPadding": 8, "labelOverlap": false, "labelFlush": false, "title": null
              }
            },
            "y": {
              "field": "r", "type": "quantitative",
              "scale": {"domain": [22.8, 76.23], "nice": false, "zero": false},
              "axis": {"orient": "right", "values": [40, 60], "format": ".2f", "ticks": false, "domain": false, "grid": true, "gridColor": "#e6e3ef", "labelPadding": 10, "labelOverlap": false, "labelFlush": false, "title": null}
            }
          }
        },
        {
          "data": {"values": [{}]},
          "mark": {"type": "rect", "color": "#7e57c2", "opacity": 0.1},
          "encoding": {
            "x": {"datum": -2.684, "type": "quantitative"},
            "x2": {"datum": 121.13},
            "y": {"datum": 30, "type": "quantitative"},
            "y2": {"datum": 70}
          }
        },
        {
          "data": {"values": [{"v": 70}, {"v": 50}, {"v": 30}]},
          "mark": {"type": "rule", "color": "#787b86", "strokeDash": [6, 5], "strokeWidth": 1},
          "encoding": {
            "y": {"field": "v", "type": "quantitative"},
            "strokeOpacity": {"condition": {"test": "datum.v == 50", "value": 0.5}, "value": 1}
          }
        },
        {
          "data": {"name": "bars"},
          "mark": {"type": "line", "color": "#7e57c2", "strokeWidth": 1.3, "clip": true},
          "encoding": {
            "x": {"field": "i", "type": "quantitative"},
            "y": {"field": "r", "type": "quantitative"}
          }
        },
        {
          "data": {"values": [{}]},
          "mark": {"type": "text", "align": "left", "color": "#131722", "fontSize": 12},
          "encoding": {
            "x": {"datum": -1.99, "type": "quantitative"},
            "y": {"datum": 70, "type": "quantitative"},
            "text": {"value": "RSI (14, close)"}
          }
        },
        {
          "data": {"name": "bars"},
          "transform": [{"filter": "datum.i == 74"}],
          "layer": [
            {
              "mark": {"type": "text", "align": "left", "color": "#7e57c2", "fontSize": 12},
              "encoding": {
                "x": {"datum": 5.39, "type": "quantitative"},
                "y": {"datum": 70, "type": "quantitative"},
                "text": {"field": "r", "format": ".2f"}
              }
            },
            {
              "mark": {"type": "rect", "yOffset": -8, "y2Offset": 8, "cornerRadius": 2, "color": "#7e57c2"},
              "encoding": {
                "x": {"datum": 121.2, "type": "quantitative"},
                "x2": {"datum": 124.8},
                "y": {"field": "r", "type": "quantitative"},
                "y2": {"field": "r"}
              }
            },
            {
              "mark": {"type": "text", "align": "left", "color": "#ffffff", "fontSize": 11.5},
              "encoding": {
                "x": {"datum": 122.04, "type": "quantitative"},
                "y": {"field": "r", "type": "quantitative"},
                "text": {"field": "r", "format": ".2f"}
              }
            }
          ]
        }
      ]
    }
  ]
}
